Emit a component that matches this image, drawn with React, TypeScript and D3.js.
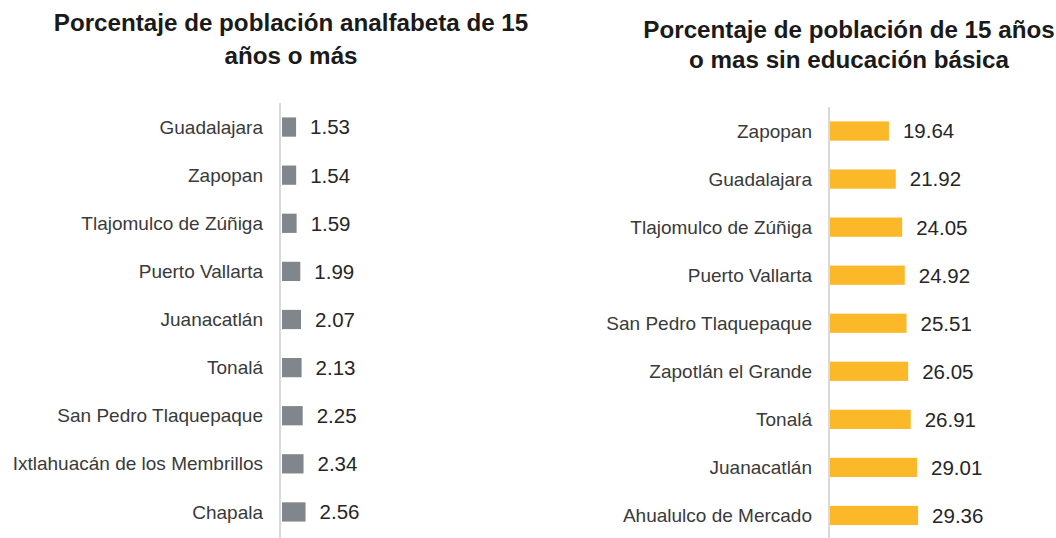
import React from "react";
import * as d3 from "d3";

const leftTitle = ["Porcentaje de población analfabeta de 15", "años o más"];
const leftCategories = [
  "Guadalajara",
  "Zapopan",
  "Tlajomulco de Zúñiga",
  "Puerto Vallarta",
  "Juanacatlán",
  "Tonalá",
  "San Pedro Tlaquepaque",
  "Ixtlahuacán de los Membrillos",
  "Chapala",
];
const leftValues = [1.53, 1.54, 1.59, 1.99, 2.07, 2.13, 2.25, 2.34, 2.56];

const rightTitle = ["Porcentaje de población de 15 años", "o mas sin educación básica"];
const rightCategories = [
  "Zapopan",
  "Guadalajara",
  "Tlajomulco de Zúñiga",
  "Puerto Vallarta",
  "San Pedro Tlaquepaque",
  "Zapotlán el Grande",
  "Tonalá",
  "Juanacatlán",
  "Ahualulco de Mercado",
];
const rightValues = [19.64, 21.92, 24.05, 24.92, 25.51, 26.05, 26.91, 29.01, 29.36];

const FONT = "'Liberation Sans', Arial, Helvetica, sans-serif";

type PanelProps = {
  title: string[];
  titleX: number;
  titleY: number[];
  categories: string[];
  values: number[];
  axisX: number;
  axisTop: number;
  yRange: [number, number];
  xDomain: [number, number];
  xRange: [number, number];
  color: string;
};

function Panel(p: PanelProps) {
  const y = d3
    .scaleBand<string>()
    .domain(p.categories)
    .range(p.yRange)
    .paddingInner(0.6)
    .paddingOuter(0.3);
  const x = d3.scaleLinear().domain(p.xDomain).range(p.xRange);
  return (
    <g>
      {p.title.map((t, i) => (
        <text
          key={i}
          x={p.titleX}
          y={p.titleY[i]}
          textAnchor="middle"
          fontFamily={FONT}
          fontWeight="bold"
          fontSize={24.2}
          fill="#1a1a1a"
        >
          {t}
        </text>
      ))}
      <line
        x1={p.axisX}
        x2={p.axisX}
        y1={p.axisTop}
        y2={538}
        stroke="#d9d9d9"
        strokeWidth={2}
      />
      {p.categories.map((c, i) => {
        const cy = (y(c) as number) + y.bandwidth() / 2;
        const v = p.values[i];
        return (
          <g key={c}>
            <text
              x={p.axisX - 17}
              y={cy}
              dy="0.35em"
              textAnchor="end"
              fontFamily={FONT}
              fontSize={19}
              fill="#3a3a3a"
            >
              {c}
            </text>
            <rect
              x={x(0)}
              y={y(c)}
              width={x(v) - x(0)}
              height={y.bandwidth()}
              fill={p.color}
            />
            <text
              x={x(v) + 14}
              y={cy}
              dy="0.36em"
              fontFamily={FONT}
              fontSize={20.5}
              fill="#262626"
            >
              {v.toFixed(2)}
            </text>
          </g>
        );
      })}
    </g>
  );
}

export default function App() {
  return (
    <svg
      width={1056}
      height={538}
      style={{ position: "absolute", left: 0, top: 0, background: "#fff" }}
    >
      <rect width={1056} height={538} fill="#fff" />
      <Panel
        title={leftTitle}
        titleX={291}
        titleY={[31, 64]}
        categories={leftCategories}
        values={leftValues}
        axisX={280}
        axisTop={103}
        yRange={[103, 536]}
        xDomain={[0, 3]}
        xRange={[282, 309.6]}
        color="#7f868c"
      />
      <Panel
        title={rightTitle}
        titleX={849}
        titleY={[38, 68]}
        categories={rightCategories}
        values={rightValues}
        axisX={829}
        axisTop={107}
        yRange={[107, 539.5]}
        xDomain={[0, 30]}
        xRange={[830, 920]}
        color="#fbb829"
      />
    </svg>
  );
}
